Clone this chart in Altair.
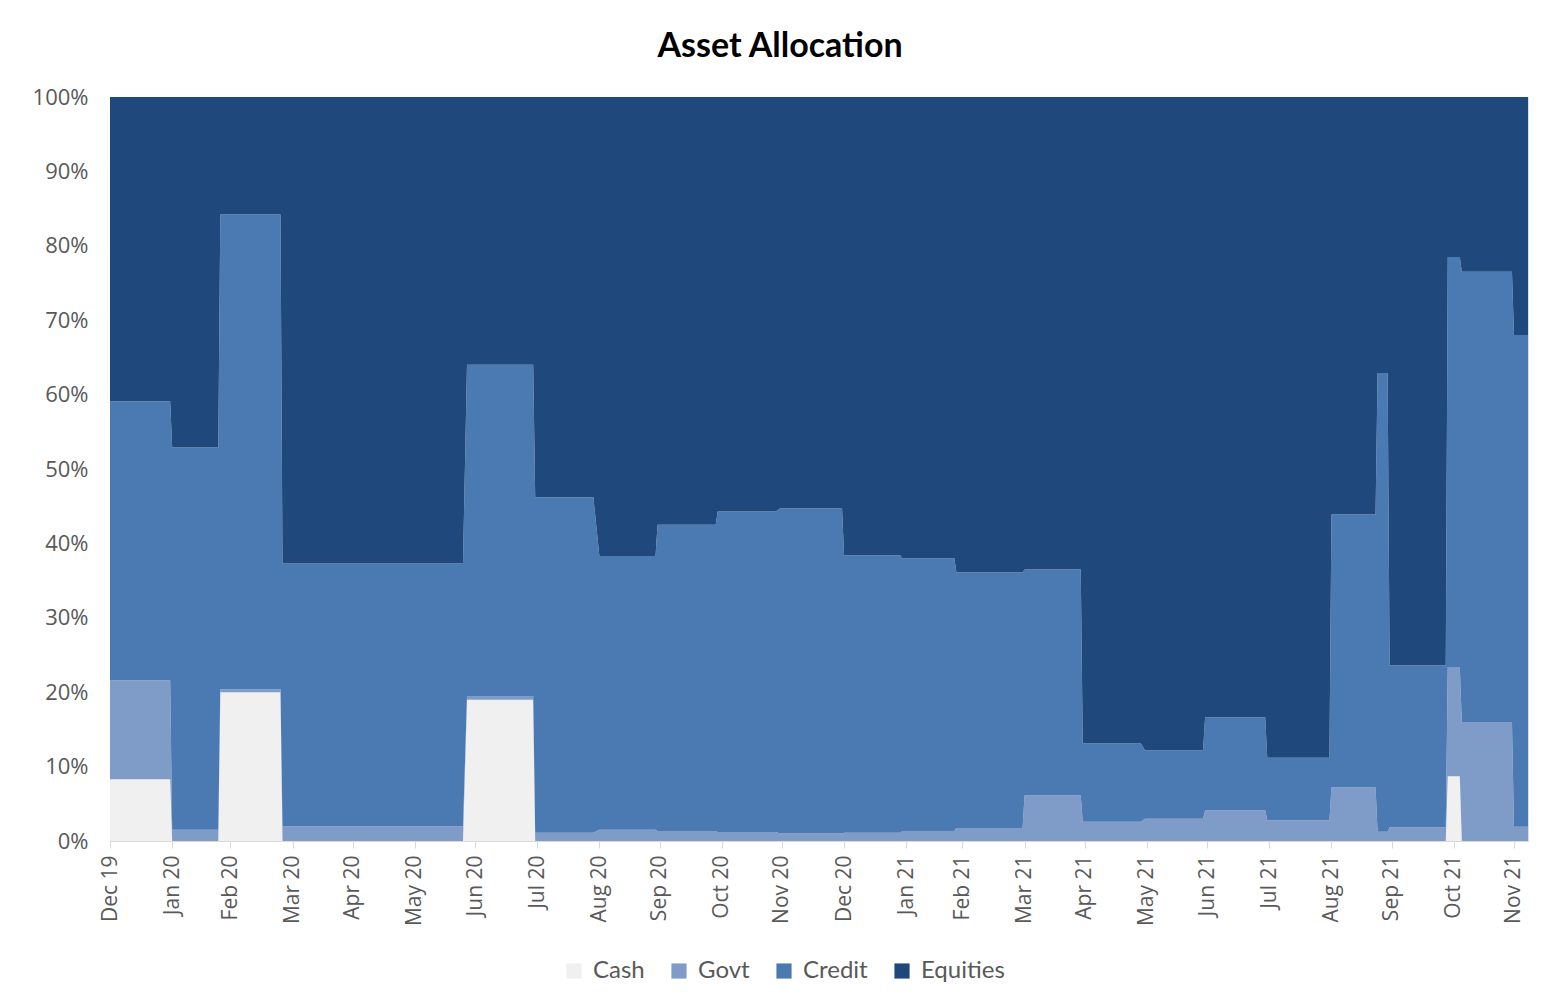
import altair as alt
import pandas as pd

# ---- data ----
series = ["Cash", "Govt", "Credit", "Equities"]
colors = ["#F0F0F0", "#7F9CC9", "#4A7AB1", "#1F497D"]

seg_start = ["2019-12-31", "2020-01-31", "2020-02-24", "2020-03-26", "2020-06-26",
             "2020-07-30", "2020-08-31", "2020-09-29", "2020-10-29", "2020-11-29",
             "2020-12-31", "2021-01-29", "2021-02-25", "2021-03-31", "2021-04-29",
             "2021-05-30", "2021-06-29", "2021-07-30", "2021-08-31", "2021-09-23",
             "2021-09-29", "2021-10-28", "2021-11-04", "2021-11-30"]
seg_end = ["2020-01-30", "2020-02-23", "2020-03-25", "2020-06-24", "2020-07-29",
           "2020-08-28", "2020-09-28", "2020-10-28", "2020-11-27", "2020-12-30",
           "2021-01-28", "2021-02-24", "2021-03-30", "2021-04-28", "2021-05-28",
           "2021-06-28", "2021-07-29", "2021-08-30", "2021-09-22", "2021-09-28",
           "2021-10-27", "2021-11-03", "2021-11-29", "2021-12-07"]

cash = [8.3, 0, 20.0, 0, 19.0, 0, 0, 0, 0, 0, 0, 0, 0, 0, 0, 0, 0, 0, 0, 0, 0, 8.7, 0, 0]
govt = [13.3, 1.5, 0.4, 1.95, 0.5, 1.1, 1.5, 1.35, 1.2, 1.0, 1.1, 1.35, 1.75, 6.1,
        2.6, 3.0, 4.1, 2.8, 7.2, 1.25, 1.8, 14.7, 16.0, 1.9]
credit = [37.5, 51.4, 63.8, 35.35, 44.5, 45.1, 36.8, 41.15, 43.1, 43.7, 37.3, 36.65,
          34.35, 30.4, 10.5, 9.2, 12.5, 8.4, 36.7, 61.65, 21.8, 55.1, 60.5, 66.1]
equities = [40.9, 47.1, 15.8, 62.7, 36.0, 53.8, 61.7, 57.5, 55.7, 55.3, 61.6, 62.0,
            63.9, 63.5, 86.9, 87.8, 83.4, 88.8, 56.1, 37.1, 76.4, 21.5, 23.5, 32.0]

tick_dates = ["2019-12-31", "2020-01-31", "2020-02-29", "2020-03-31", "2020-04-30",
              "2020-05-31", "2020-06-30", "2020-07-31", "2020-08-31", "2020-09-30",
              "2020-10-31", "2020-11-30", "2020-12-31", "2021-01-31", "2021-02-28",
              "2021-03-31", "2021-04-30", "2021-05-31", "2021-06-30", "2021-07-31",
              "2021-08-31", "2021-09-30", "2021-10-31", "2021-11-30"]
y_ticks = [0, 10, 20, 30, 40, 50, 60, 70, 80, 90, 100]
x_domain = ["2019-12-31", "2021-12-07"]


def ms(d):
    return int(pd.Timestamp(d, tz="UTC").timestamp() * 1000)


rows = []
for i in range(len(seg_start)):
    vals = {"Cash": cash[i], "Govt": govt[i], "Credit": credit[i], "Equities": equities[i]}
    for d in (seg_start[i], seg_end[i]):
        for k, s in enumerate(series):
            rows.append({"date": ms(d), "series": s, "order": k, "value": vals[s]})
df = pd.DataFrame(rows)

axis_font = "Open Sans"
text_col = "#595959"

chart = alt.Chart(df).mark_area(interpolate="linear").encode(
    x=alt.X(
        "date:T",
        title=None,
        scale=alt.Scale(type="utc", domain=[ms(d) for d in x_domain], nice=False),
        axis=alt.Axis(
            values=[ms(d) for d in tick_dates],
            labelExpr="utcFormat(datum.value, '%b %y')",
            labelAngle=-90,
            labelAlign="right",
            labelBaseline="middle",
            labelFont=axis_font,
            labelFontSize=21,
            labelColor=text_col,
            labelPadding=7,
            labelOverlap=False,
            labelFlush=False,
            tickSize=7,
            tickColor="#D9D9D9",
            domainColor="#D9D9D9",
            grid=False,
        ),
    ),
    y=alt.Y(
        "value:Q",
        title=None,
        stack="zero",
        scale=alt.Scale(domain=[0, 100], nice=False),
        axis=alt.Axis(
            values=y_ticks,
            labelExpr="datum.value + '%'",
            labelFont=axis_font,
            labelFontSize=22,
            labelColor=text_col,
            labelPadding=22,
            ticks=False,
            domain=False,
            grid=False,
        ),
    ),
    color=alt.Color(
        "series:N",
        scale=alt.Scale(domain=series, range=colors),
        legend=alt.Legend(
            title=None,
            orient="none",
            legendX=452,
            legendY=862,
            direction="horizontal",
            symbolType="square",
            symbolSize=230,
            symbolStrokeWidth=0,
            labelFont="Lato",
            labelFontSize=24,
            labelColor=text_col,
            labelOffset=7,
            columnPadding=22,
        ),
    ),
    order=alt.Order("order:Q", sort="ascending"),
).properties(
    width=1418,
    height=744,
    title=alt.TitleParams(
        "Asset Allocation",
        font="Lato",
        fontSize=34,
        fontWeight="bold",
        color="#000000",
        anchor="middle",
        frame="bounds",
        offset=22,
    ),
    padding={"left": 102, "top": 89, "right": 11, "bottom": 150},
    autosize=alt.AutoSizeParams(type="none"),
).configure_view(strokeWidth=0).configure(background="#FFFFFF")

chart.save("out.html", embed_options={"renderer": "svg", "actions": False})
